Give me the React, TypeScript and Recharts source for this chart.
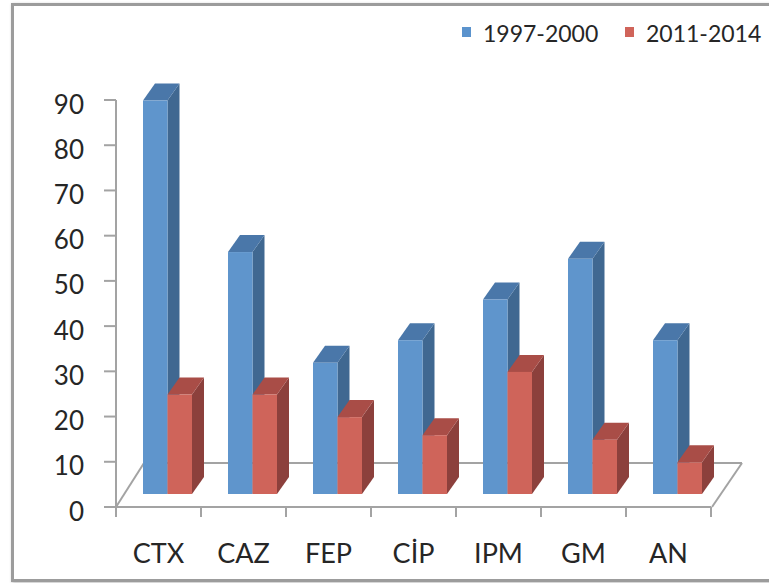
import { Bar, BarChart, XAxis, YAxis } from "recharts";

const categories = ["CTX", "CAZ", "FEP", "CİP", "IPM", "GM", "AN"];
const period1997 = [87, 53.5, 29, 34, 43, 52, 34];
const period2011 = [22, 22, 17, 13, 27, 12, 7];
const seriesNames = ["1997-2000", "2011-2014"];
const yTicks = [0, 10, 20, 30, 40, 50, 60, 70, 80, 90];

const data = categories.map((name, i) => ({
  name,
  a: period1997[i],
  b: period2011[i],
}));

const W = 769;
const H = 583;
const PLOT = { left: 116, top: 100, right: 711, bottom: 507 };
const FONT = "Lato, 'Open Sans', sans-serif";
const AXIS = "#a3a3a3";

// bars sit a little way back into the floor, and have a box depth
const SHIFT_X = 9;
const SHIFT_Y = -13;
const DEPTH_X = 12;
const DEPTH_Y = -17;
// floor depth
const FLOOR_DX = 28;
const FLOOR_DY = -44;

const palettes = [
  { front: "#5f95cc", top: "#4a77a9", side: "#406891", key: "#5b93cd" },
  { front: "#cf645a", top: "#a94d47", side: "#8c403c", key: "#d0645a" },
];

function box(pal: (typeof palettes)[number]) {
  return (props: any) => {
    const { x, y, width, height } = props;
    if (height == null || width == null) return <g />;
    const fx = x + SHIFT_X;
    const fy = y + SHIFT_Y;
    const w = width;
    const h = height;
    const top = [
      [fx, fy],
      [fx + w, fy],
      [fx + w + DEPTH_X, fy + DEPTH_Y],
      [fx + DEPTH_X, fy + DEPTH_Y],
    ];
    const side = [
      [fx + w, fy],
      [fx + w + DEPTH_X, fy + DEPTH_Y],
      [fx + w + DEPTH_X, fy + h + DEPTH_Y],
      [fx + w, fy + h],
    ];
    const pts = (p: number[][]) => p.map((q) => q.join(",")).join(" ");
    return (
      <g>
        <polygon points={pts(side)} fill={pal.side} />
        <polygon points={pts(top)} fill={pal.top} />
        <rect x={fx} y={fy} width={w} height={h} fill={pal.front} />
      </g>
    );
  };
}

function Floor() {
  const { left, right, bottom } = PLOT;
  const band = (right - left) / categories.length;
  const bl = left + FLOOR_DX;
  const br = right + 1 + FLOOR_DX + 2;
  const by = bottom + FLOOR_DY;
  return (
    <g stroke={AXIS} strokeWidth={2} fill="none">
      <line x1={left} y1={bottom} x2={bl} y2={by} />
      <line x1={bl} y1={by} x2={br} y2={by} />
      <line x1={br} y1={by} x2={right + 1} y2={bottom} />
      {categories.concat([""]).map((_, i) => (
        <line
          key={i}
          x1={left + i * band}
          y1={bottom}
          x2={left + i * band}
          y2={bottom + 10}
        />
      ))}
    </g>
  );
}

function KeyBox() {
  const items = [
    { x: 462, label: seriesNames[0], color: palettes[0].key },
    { x: 625, label: seriesNames[1], color: palettes[1].key },
  ];
  return (
    <g>
      {items.map((it) => (
        <g key={it.label}>
          <rect x={it.x} y={27} width={9} height={10} fill={it.color} />
          <text
            x={it.x + 21}
            y={42}
            fontSize={23}
            fontFamily={FONT}
            fill="#262626"
          >
            {it.label}
          </text>
        </g>
      ))}
    </g>
  );
}

const YTick = (p: any) => (
  <text
    x={p.x}
    y={p.y + 7}
    textAnchor="end"
    dominantBaseline="middle"
    fontSize={26}
    fontFamily={FONT}
    fill="#262626"
  >
    {p.payload.value}
  </text>
);

const XTick = (p: any) => (
  <text
    x={p.x}
    y={p.y + 48}
    textAnchor="middle"
    fontSize={27}
    fontFamily={FONT}
    fill="#262626"
  >
    {p.payload.value}
  </text>
);

export default function App() {
  return (
    <div
      style={{
        position: "absolute",
        left: 0,
        top: 0,
        width: W,
        height: H,
        background: "#fff",
        overflow: "hidden",
      }}
    >
      <div
        style={{
          position: "absolute",
          left: 11,
          top: 3,
          width: 780,
          height: 579,
          border: "3px solid #9c9c9c",
          boxSizing: "border-box",
          boxShadow: "1px 1px 3px rgba(0,0,0,0.25)",
        }}
      />
      <div style={{ position: "absolute", left: 0, top: 0 }}>
        <BarChart
          width={W}
          height={H}
          data={data}
          margin={{ top: PLOT.top, right: W - PLOT.right, bottom: 0, left: 0 }}
          barGap={0}
          barSize={24.5}
        >
          <Floor />
          <XAxis
            dataKey="name"
            height={H - PLOT.bottom}
            tickLine={false}
            axisLine={{ stroke: AXIS, strokeWidth: 2 }}
            tick={XTick}
            interval={0}
          />
          <YAxis
            width={PLOT.left}
            domain={[0, 90]}
            ticks={yTicks}
            interval={0}
            tickSize={12}
            tickMargin={20}
            axisLine={{ stroke: AXIS, strokeWidth: 2 }}
            tickLine={{ stroke: AXIS, strokeWidth: 2 }}
            tick={YTick}
          />
          <Bar
            dataKey="a"
            name={seriesNames[0]}
            fill={palettes[0].front}
            shape={box(palettes[0])}
            isAnimationActive={false}
          />
          <Bar
            dataKey="b"
            name={seriesNames[1]}
            fill={palettes[1].front}
            shape={box(palettes[1])}
            isAnimationActive={false}
          />
          <KeyBox />
        </BarChart>
      </div>
    </div>
  );
}
